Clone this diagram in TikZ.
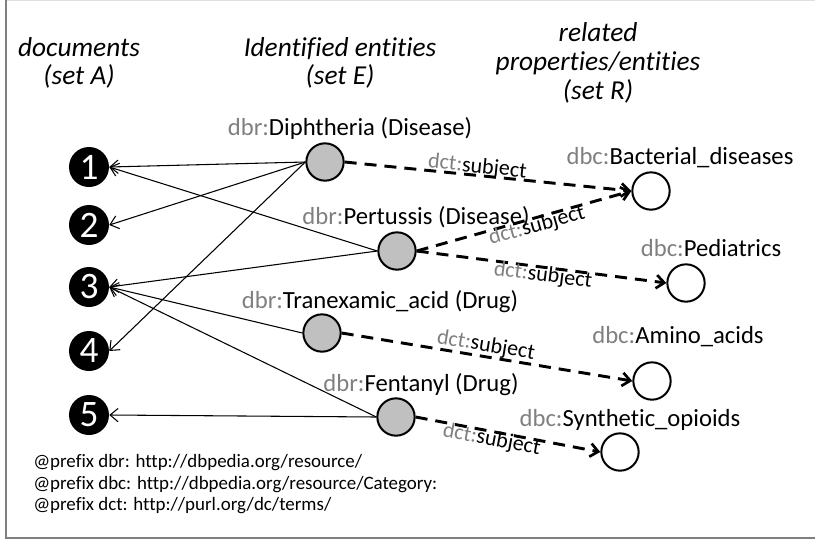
\documentclass[tikz,border=0pt]{standalone}
\usepackage{fontspec}
\setmainfont{Carlito}[Ligatures=NoCommon]
\usetikzlibrary{arrows.meta}
\definecolor{entfill}{HTML}{C0C0C0}
\definecolor{prefixgray}{HTML}{808080}
\definecolor{framegray}{HTML}{7F7F7F}
\newcommand{\pfx}[1]{\textcolor{prefixgray}{#1}}

\begin{document}
\begin{tikzpicture}[x=0.75pt,y=-0.75pt,
  docnode/.style={circle, fill=black, minimum size=30pt, inner sep=0pt, text=white,
    font=\fontsize{28}{28}\selectfont},
  entnode/.style={circle, draw=black, fill=entfill, line width=1.5pt, minimum size=28pt, inner sep=0pt},
  relnode/.style={circle, draw=black, fill=white, line width=1.5pt, minimum size=28pt, inner sep=0pt},
  header/.style={font=\fontsize{20.5}{21.5}\selectfont\itshape, align=center, inner sep=0pt},
  lbl/.style={font=\fontsize{18.5}{20}\selectfont, inner sep=0pt},
  mention/.style={-{Straight Barb[length=6pt,width=10pt]}, line width=0.8pt},
  subj/.style={-{Straight Barb[length=6pt,width=10pt,line width=2pt]}, line width=2.2pt,
    dash pattern=on 9pt off 6pt},
  subjlbl/.style={font=\fontsize{16.5}{18}\selectfont, inner sep=0pt, sloped},
  nsline/.style={font=\fontsize{14.2}{16}\selectfont, anchor=west, inner sep=0pt}
]
\useasboundingbox (0,0) rectangle (815,540);

% frame
\draw[gray!25, line width=0.8pt] (6,0.5) -- (815,0.5);
\draw[framegray, line width=1.2pt] (6,0) -- (6,538) -- (815,538);

% column headers
\node[header] (hA) at (79,63) {documents\\(set A)};
\node[header] (hE) at (340,63) {Identified entities\\(set E)};
\node[header] (hR) at (598,63) {related\\properties/entities\\(set R)};

% documents
\node[docnode] (d1) at (89,167) {1};
\node[docnode] (d2) at (89,225) {2};
\node[docnode] (d3) at (89,287) {3};
\node[docnode] (d4) at (89,351) {4};
\node[docnode] (d5) at (89,415) {5};

% identified entities
\node[entnode] (eD) at (325,162) {};
\node[entnode] (eP) at (397,251) {};
\node[entnode] (eT) at (322,333) {};
\node[entnode] (eF) at (396,417) {};

\node[lbl] (lD) at (350,128) {\pfx{dbr:}Diphtheria (Disease)};
\node[lbl] (lP) at (416,217) {\pfx{dbr:}Pertussis (Disease)};
\node[lbl] (lT) at (380,302) {\pfx{dbr:}Tranexamic\_acid (Drug)};
\node[lbl] (lF) at (421,385) {\pfx{dbr:}Fentanyl (Drug)};

% related categories
\node[relnode] (rB) at (651,191) {};
\node[relnode] (rP) at (686,283) {};
\node[relnode] (rA) at (652,381) {};
\node[relnode] (rS) at (620,452) {};

\node[lbl] (lB) at (680,158) {\pfx{dbc:}Bacterial\_diseases};
\node[lbl] (lPe) at (711,248) {\pfx{dbc:}Pediatrics};
\node[lbl] (lA) at (678,337) {\pfx{dbc:}Amino\_acids};
\node[lbl] (lS) at (630,420) {\pfx{dbc:}Synthetic\_opioids};

% entity mentions in documents
\draw[mention] (eD.west) -- (d1.east);
\draw[mention] (eD.west) -- (d2.east);
\draw[mention] (eD.west) -- (d4.east);
\draw[mention] (eP.west) -- (d1.east);
\draw[mention] (eP.west) -- (d3.east);
\draw[mention] (eT.west) -- (d3.east);
\draw[mention] (eF.west) -- (d3.east);
\draw[mention] (eF.west) -- (d5.east);

% dct:subject links
\draw[subj] (eD.east) -- node[subjlbl, pos=0.46, above=-2pt] {\pfx{dct:}subject} (rB.west);
\draw[subj] (eP.east) -- node[subjlbl, pos=0.55, below=-2pt] {\pfx{dct:}subject} (rB.west);
\draw[subj] (eP.east) -- node[subjlbl, pos=0.51, below=-2pt] {\pfx{dct:}subject} (rP.west);
\draw[subj] (eT.east) -- node[subjlbl, pos=0.49, above=0pt] {\pfx{dct:}subject} (rA.west);
\draw[subj] (eF.east) -- node[subjlbl, pos=0.42, below=-2pt] {\pfx{dct:}subject} (rS.west);

% namespace prefixes
\node[nsline] (p1) at (33,463) {@prefix dbr: http://dbpedia.org/resource/};
\node[nsline] (p2) at (33,485) {@prefix dbc: http://dbpedia.org/resource/Category:};
\node[nsline] (p3) at (33,506) {@prefix dct: http://purl.org/dc/terms/};
\end{tikzpicture}
\end{document}
